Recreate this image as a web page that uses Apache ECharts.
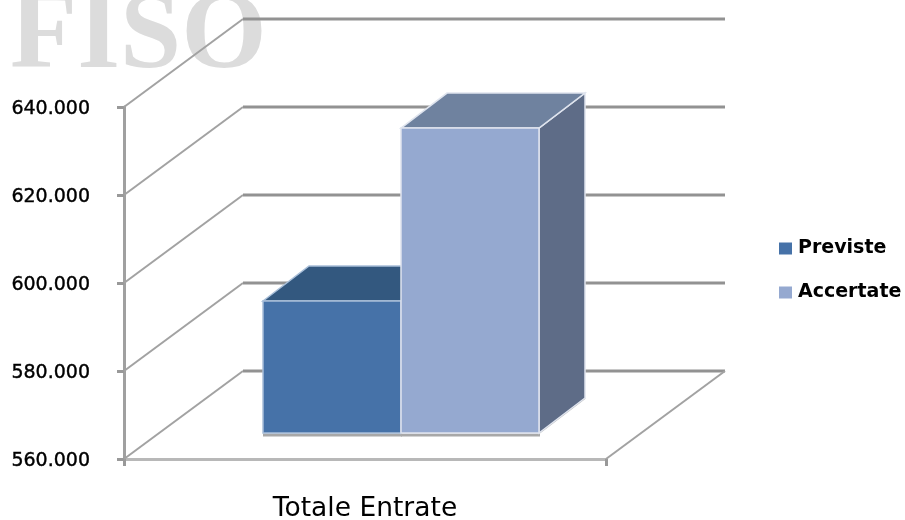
<!DOCTYPE html>
<html><head><meta charset="utf-8">
<script src="https://cdn.jsdelivr.net/npm/echarts@6/dist/echarts.min.js"></script>
<style>html,body{margin:0;padding:0;background:#fff}#c{width:905px;height:520px}</style>
</head><body><div id="c"></div>
<script>
const categories = ['Totale Entrate'];
const yTicks = [560000, 580000, 600000, 620000, 640000];
const previste = [590000];
const accertate = [629300];
const seriesNames = ['Previste', 'Accertate'];

const WALL = [119, -88], FRONT = [36, -26], DEPTH = [46, -35], BAR_W = 138;
const line = (x1, y1, x2, y2, stroke, lineWidth) => ({
  type: 'line', shape: {x1, y1, x2, y2}, style: {stroke, lineWidth}
});
const poly = (points, fill, stroke, lineWidth) => ({
  type: 'polygon', shape: {points}, style: {fill, stroke, lineWidth}
});

function wallItem(params, api) {
  const p = api.coord([0, api.value(1)]);
  const band = api.size([1, 0])[0];
  const x0 = p[0] - band / 2, x1 = p[0] + band / 2, y = p[1];
  const kids = [
    line(x0, y, x0 + WALL[0], y + WALL[1], '#a2a2a2', 2),
    line(x0 + WALL[0], y + WALL[1], x1 + WALL[0], y + WALL[1], '#929292', 3)
  ];
  if (params.dataIndex === 0) {
    kids.push(line(x1, y, x1 + WALL[0], y + WALL[1], '#a2a2a2', 2));
  }
  return {type: 'group', children: kids};
}

function barItem(slot, colors) {
  return function (params, api) {
    const p = api.coord([0, api.value(1)]);
    const b = api.coord([0, yTicks[0]]);
    const xl = p[0] + (slot === 0 ? -BAR_W : 0) + FRONT[0];
    const xr = xl + BAR_W;
    const yt = p[1] + FRONT[1], yb = b[1] + FRONT[1];
    const dx = DEPTH[0], dy = DEPTH[1];
    return {type: 'group', children: [
      line(xr, yb, xr + dx, yb + dy, '#b4b4b4', 2),
      line(xl, yb + 2, xr + 1, yb + 2, '#a8a8a8', 3),
      poly([[xr, yt], [xr + dx, yt + dy], [xr + dx, yb + dy], [xr, yb]], colors.side, colors.edge, 1.5),
      poly([[xl, yt], [xl + dx, yt + dy], [xr + dx, yt + dy], [xr, yt]], colors.top, colors.edge, 1.5),
      poly([[xl, yt], [xr, yt], [xr, yb], [xl, yb]], colors.front, colors.edge, 1.5)
    ]};
  };
}

const chart = echarts.init(document.getElementById('c'), null, {renderer: 'canvas'});
chart.setOption({
  animation: false,
  backgroundColor: '#fff',
  graphic: [{
    type: 'text', left: 10, top: -16, z: 0,
    style: {text: 'FISO', font: 'bold 110px "Liberation Serif"', fill: '#dcdcdc'}
  }],
  grid: {left: 124, top: 107, width: 482, height: 352, outerBoundsMode: 'none'},
  legend: {
    left: 774, top: 234, orient: 'vertical', itemWidth: 13, itemHeight: 12, itemGap: 25,
    icon: 'rect', data: seriesNames,
    textStyle: {fontFamily: 'DejaVu Sans', fontWeight: 'bold', fontSize: 19, color: '#000', padding: [0, 0, 0, 1]}
  },
  xAxis: {
    type: 'category', data: categories,
    axisLine: {lineStyle: {color: '#b8b8b8', width: 3}},
    axisTick: {show: true, length: 7, alignWithLabel: false, lineStyle: {color: '#999', width: 3}},
    axisLabel: {color: '#000', fontFamily: 'DejaVu Sans', fontSize: 26.5, margin: 37}
  },
  yAxis: {
    type: 'value', min: yTicks[0], max: yTicks[yTicks.length - 1], interval: yTicks[1] - yTicks[0],
    splitLine: {show: false},
    axisLine: {show: true, lineStyle: {color: '#a0a0a0', width: 3}},
    axisTick: {show: true, length: 7, lineStyle: {color: '#999', width: 3}},
    axisLabel: {
      color: '#000', fontFamily: 'DejaVu Sans', fontSize: 19, margin: 34,
      verticalAlign: 'top', lineHeight: 5, textBorderColor: '#000', textBorderWidth: 0.4,
      formatter: v => String(v).replace(/\B(?=(\d{3})+$)/g, '.')
    }
  },
  series: [
    {type: 'custom', name: 'wall', silent: true, z: 1, clip: false,
     renderItem: wallItem, data: yTicks.map(v => [0, v]), encode: {x: 0, y: 1}},
    {type: 'custom', name: seriesNames[0], z: 2, clip: false, itemStyle: {color: '#4672a8'},
     renderItem: barItem(0, {front: '#4672a8', top: '#33587f', side: '#33587f', edge: '#a9bfd9'}),
     data: previste.map((v, i) => [i, v]), encode: {x: 0, y: 1}},
    {type: 'custom', name: seriesNames[1], z: 3, clip: false, itemStyle: {color: '#95a9d0'},
     renderItem: barItem(1, {front: '#95a9d0', top: '#6f829f', side: '#5e6c87', edge: '#dfe4ee'}),
     data: accertate.map((v, i) => [i, v]), encode: {x: 0, y: 1}}
  ]
});
</script></body></html>
